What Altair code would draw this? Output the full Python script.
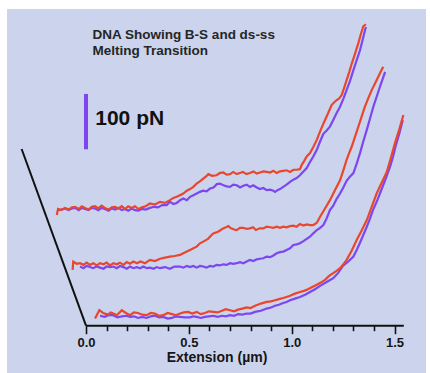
import altair as alt
import pandas as pd

# ---- data (display coordinates: extension in µm, force in pN incl. stacking offset) ----
# Top trace
t1_red_x = [-0.142, -0.136, -0.120, -0.102, -0.085, -0.068, -0.053, -0.035, -0.020, -0.005, 0.012, 0.028, 0.044,
            0.060, 0.076, 0.092, 0.110, 0.125, 0.141, 0.158, 0.174, 0.190, 0.205, 0.222, 0.238, 0.255, 0.272, 0.290,
            0.311, 0.335, 0.360, 0.384, 0.408, 0.425, 0.441, 0.457, 0.473, 0.490, 0.506, 0.522, 0.538, 0.554, 0.570,
            0.584, 0.595, 0.612, 0.635, 0.650, 0.667, 0.684, 0.700, 0.716, 0.733, 0.748, 0.763, 0.780, 0.797, 0.814,
            0.830, 0.846, 0.862, 0.878, 0.895, 0.911, 0.927, 0.943, 0.959, 0.975, 0.992, 1.008, 1.024, 1.040, 1.049,
            1.061, 1.073, 1.089, 1.105, 1.122, 1.142, 1.162, 1.178, 1.194, 1.207, 1.219, 1.231, 1.243, 1.255, 1.267,
            1.280, 1.292, 1.308, 1.324, 1.336, 1.348, 1.361]
t1_red_f = [200, 211, 209, 213, 210, 214, 215, 211, 216, 213, 210, 215, 216, 212, 217, 213, 210, 214, 215, 212,
            216, 211, 216, 213, 216, 211, 214, 216, 221, 219, 224, 222, 227, 231, 233, 236, 239, 244, 247, 251, 257,
            261, 266, 270, 274, 271, 272, 276, 277, 273, 274, 278, 274, 276, 278, 274, 276, 279, 275, 277, 279, 278,
            277, 280, 276, 279, 280, 281, 278, 282, 282, 283, 291, 298, 306, 312, 323, 336, 355, 372, 385, 399, 404,
            408, 411, 417, 430, 444, 459, 474, 492, 511, 527, 541, 545]

t1_pur_x = [-0.136, -0.120, -0.102, -0.085, -0.068, -0.053, -0.035, -0.020, -0.005, 0.012, 0.028, 0.044, 0.060,
            0.076, 0.092, 0.110, 0.125, 0.141, 0.158, 0.174, 0.190, 0.205, 0.222, 0.238, 0.255, 0.272, 0.290, 0.311,
            0.330, 0.350, 0.370, 0.392, 0.408, 0.425, 0.441, 0.457, 0.473, 0.490, 0.506, 0.522, 0.538, 0.554, 0.569,
            0.586, 0.603, 0.620, 0.636, 0.651, 0.668, 0.684, 0.700, 0.716, 0.733, 0.749, 0.765, 0.781, 0.797, 0.813,
            0.830, 0.846, 0.862, 0.878, 0.895, 0.911, 0.919, 0.931, 0.943, 0.959, 0.975, 0.992, 1.008, 1.024, 1.040,
            1.057, 1.073, 1.089, 1.105, 1.122, 1.138, 1.154, 1.170, 1.186, 1.202, 1.219, 1.235, 1.251, 1.267, 1.284,
            1.300, 1.316, 1.332, 1.345, 1.357, 1.361]
t1_pur_f = [209, 210, 212, 209, 212, 213, 209, 213, 211, 209, 213, 212, 209, 213, 211, 208, 212, 210, 213, 209,
            211, 208, 212, 209, 208, 211, 210, 213, 215, 214, 218, 218, 224, 220, 222, 227, 230, 227, 233, 236, 239,
            242, 244, 243, 248, 250, 256, 257, 254, 252, 251, 255, 254, 250, 253, 255, 251, 254, 250, 247, 249, 245,
            246, 244, 242, 245, 247, 251, 255, 260, 264, 267, 272, 279, 285, 296, 306, 318, 333, 347, 353, 360, 372,
            385, 396, 410, 426, 443, 462, 480, 498, 517, 535, 540]

# Middle trace
t2_red_x = [-0.065, -0.062, -0.045, -0.029, -0.012, 0.003, 0.019, 0.036, 0.052, 0.068, 0.085, 0.100, 0.117, 0.133,
            0.149, 0.165, 0.182, 0.198, 0.214, 0.230, 0.248, 0.265, 0.287, 0.311, 0.335, 0.360, 0.384, 0.408, 0.430,
            0.457, 0.473, 0.490, 0.506, 0.522, 0.538, 0.554, 0.570, 0.593, 0.606, 0.619, 0.642, 0.655, 0.667, 0.680,
            0.692, 0.705, 0.720, 0.733, 0.748, 0.763, 0.780, 0.797, 0.812, 0.826, 0.845, 0.862, 0.878, 0.895, 0.911,
            0.927, 0.943, 0.959, 0.975, 0.992, 1.008, 1.024, 1.040, 1.057, 1.073, 1.089, 1.105, 1.122, 1.138, 1.162,
            1.186, 1.210, 1.235, 1.251, 1.267, 1.280, 1.292, 1.308, 1.324, 1.340, 1.356, 1.372, 1.389, 1.405, 1.421,
            1.435, 1.445]
t2_red_f = [101, 116, 112, 113, 110, 114, 110, 113, 109, 113, 111, 114, 109, 113, 111, 114, 110, 115, 112, 116,
            113, 116, 113, 119, 117, 121, 123, 125, 126, 128, 131, 134, 137, 140, 143, 149, 152, 157, 162, 167, 170,
            173, 176, 178, 180, 176, 174, 173, 177, 177, 175, 176, 178, 173, 176, 176, 179, 178, 177, 179, 177, 179,
            178, 180, 181, 179, 184, 181, 183, 182, 182, 186, 197, 212, 227, 245, 263, 281, 300, 313, 324, 342, 360,
            378, 396, 411, 426, 438, 450, 461, 468]

t2_pur_x = [-0.029, -0.012, 0.003, 0.019, 0.035, 0.052, 0.068, 0.085, 0.100, 0.117, 0.133, 0.149, 0.165, 0.182,
            0.198, 0.214, 0.230, 0.247, 0.263, 0.279, 0.295, 0.312, 0.328, 0.344, 0.360, 0.384, 0.408, 0.430, 0.457,
            0.473, 0.490, 0.506, 0.522, 0.538, 0.554, 0.570, 0.586, 0.603, 0.619, 0.635, 0.651, 0.667, 0.684, 0.700,
            0.716, 0.733, 0.749, 0.765, 0.781, 0.797, 0.813, 0.830, 0.846, 0.862, 0.878, 0.895, 0.911, 0.927, 0.943,
            0.959, 0.975, 0.992, 1.008, 1.024, 1.040, 1.057, 1.073, 1.089, 1.105, 1.122, 1.138, 1.154, 1.170, 1.186,
            1.202, 1.218, 1.235, 1.251, 1.267, 1.284, 1.300, 1.316, 1.332, 1.348, 1.365, 1.381, 1.397, 1.413, 1.429,
            1.442, 1.454]
t2_pur_f = [107, 104, 108, 106, 104, 107, 105, 103, 107, 106, 107, 104, 108, 106, 103, 107, 104, 106, 104, 107,
            104, 105, 103, 106, 104, 106, 103, 107, 107, 105, 108, 106, 108, 105, 108, 107, 105, 108, 107, 110, 109,
            111, 110, 113, 112, 113, 115, 113, 116, 119, 117, 120, 121, 122, 125, 124, 127, 131, 133, 134, 137, 140,
            146, 147, 149, 153, 157, 161, 167, 173, 177, 182, 194, 209, 217, 229, 239, 250, 262, 270, 276, 293, 312,
            333, 354, 375, 396, 414, 432, 446, 459]

# Bottom trace
t3_red_x = [0.044, 0.065, 0.083, 0.107, 0.120, 0.133, 0.150, 0.174, 0.194, 0.214, 0.233, 0.253, 0.273, 0.295,
            0.315, 0.335, 0.355, 0.376, 0.397, 0.418, 0.437, 0.457, 0.476, 0.496, 0.517, 0.538, 0.558, 0.578, 0.598,
            0.619, 0.640, 0.661, 0.680, 0.700, 0.720, 0.739, 0.760, 0.781, 0.800, 0.822, 0.850, 0.878, 0.899, 0.919,
            0.938, 0.958, 0.975, 0.992, 1.016, 1.040, 1.060, 1.079, 1.100, 1.122, 1.142, 1.162, 1.182, 1.202, 1.218,
            1.235, 1.251, 1.267, 1.292, 1.316, 1.340, 1.365, 1.389, 1.413, 1.437, 1.462, 1.482, 1.502, 1.523, 1.543]
t3_red_f = [13, 28, 23, 20, 24, 22, 19, 28, 23, 19, 24, 23, 20, 19, 23, 22, 18, 19, 23, 21, 19, 22, 24, 25, 22,
            25, 21, 23, 26, 25, 24, 27, 30, 28, 26, 29, 31, 33, 32, 36, 40, 43, 44, 46, 48, 50, 52, 54, 58, 61, 63,
            66, 70, 74, 78, 83, 90, 95, 99, 104, 111, 119, 136, 155, 172, 191, 215, 239, 258, 278, 303, 330, 355, 381]

t3_pur_x = [0.068, 0.090, 0.110, 0.131, 0.153, 0.175, 0.195, 0.214, 0.233, 0.253, 0.273, 0.295, 0.315, 0.335,
            0.355, 0.376, 0.397, 0.418, 0.437, 0.457, 0.480, 0.506, 0.522, 0.538, 0.558, 0.578, 0.598, 0.619, 0.640,
            0.661, 0.680, 0.700, 0.720, 0.739, 0.760, 0.781, 0.800, 0.822, 0.850, 0.878, 0.899, 0.919, 0.938, 0.958,
            0.975, 0.992, 1.016, 1.040, 1.065, 1.089, 1.113, 1.138, 1.170, 1.202, 1.225, 1.249, 1.275, 1.300, 1.316,
            1.332, 1.348, 1.365, 1.380, 1.395, 1.413, 1.429, 1.454, 1.478, 1.493, 1.507, 1.525, 1.540]
t3_pur_f = [18, 16, 19, 19, 15, 17, 18, 16, 17, 14, 16, 14, 17, 18, 15, 16, 13, 14, 17, 16, 15, 15, 17, 16, 14,
            16, 17, 18, 16, 18, 17, 19, 18, 21, 20, 22, 22, 25, 27, 31, 33, 36, 38, 41, 43, 46, 49, 52, 56, 61, 66,
            72, 79, 86, 95, 108, 116, 125, 137, 150, 164, 179, 193, 209, 224, 239, 263, 287, 306, 327, 350, 372]

# Annotation values
scale_bar_pN = 100
axis_extent = [0.0, 1.545]
tick_values = [round(0.1 * i, 1) for i in range(16)]

# ---- build table ----
rows = []
for trace, series, xs, fs in [
    ("top", "relax", t1_pur_x, t1_pur_f), ("top", "stretch", t1_red_x, t1_red_f),
    ("middle", "relax", t2_pur_x, t2_pur_f), ("middle", "stretch", t2_red_x, t2_red_f),
    ("bottom", "relax", t3_pur_x, t3_pur_f), ("bottom", "stretch", t3_red_x, t3_red_f),
]:
    for i, (x, f) in enumerate(zip(xs, fs)):
        rows.append({"x": x, "f": f, "trace": trace, "series": series, "i": i})
df = pd.DataFrame(rows)

RED = "#e9472d"
PURPLE = "#7c46f0"
FONT = "Liberation Sans"

xscale = alt.Scale(domain=[-0.3841, 1.6529], nice=False, zero=False)
yscale = alt.Scale(domain=[-85.5, 572.6], nice=False, zero=False)

major_test = "abs(datum.value * 2 - round(datum.value * 2)) < 0.001"
xaxis = alt.Axis(
    values=tick_values,
    domain=False,
    grid=False,
    format=".1f",
    labelExpr=f"{major_test} ? datum.label : ''",
    tickSize={"condition": {"test": major_test, "value": 8}, "value": 5},
    tickColor="#111111",
    tickWidth=1.6,
    labelFont=FONT,
    labelFontSize=13,
    labelFontWeight="bold",
    labelColor="#151515",
    labelPadding=3,
    labelOverlap=False,
    title="Extension (µm)",
    titleFont=FONT,
    titleFontSize=14,
    titleFontWeight="bold",
    titleColor="#151515",
    titlePadding=1,
    offset=-47.3,
)

def X(field=None, datum=None):
    if datum is not None:
        return alt.X(datum=datum, type="quantitative", scale=xscale, axis=xaxis)
    return alt.X(field, type="quantitative", scale=xscale, axis=xaxis)

def Y(field=None, datum=None):
    if datum is not None:
        return alt.Y(datum=datum, type="quantitative", scale=yscale, axis=None)
    return alt.Y(field, type="quantitative", scale=yscale, axis=None)

one = pd.DataFrame({"k": [0]})

purple_lines = alt.Chart(df[df.series == "relax"]).mark_line(strokeWidth=2.2, color=PURPLE).encode(
    x=X("x"), y=Y("f"), detail="trace:N", order="i:Q")
red_lines = alt.Chart(df[df.series == "stretch"]).mark_line(strokeWidth=2.2, color=RED).encode(
    x=X("x"), y=Y("f"), detail="trace:N", order="i:Q")

axis_line = alt.Chart(one).mark_rule(strokeWidth=2, color="#111111").encode(
    x=X(datum=axis_extent[0]), x2=alt.X2(datum=axis_extent[1]), y=Y(datum=0))
diag_line = alt.Chart(one).mark_rule(strokeWidth=2, color="#111111").encode(
    x=X(datum=-0.313), x2=alt.X2(datum=0.0), y=Y(datum=319.5), y2=alt.Y2(datum=0))
scale_bar = alt.Chart(one).mark_rule(strokeWidth=4, color=PURPLE).encode(
    x=X(datum=0.0), y=Y(datum=319), y2=alt.Y2(datum=319 + scale_bar_pN))
scale_text = alt.Chart(one).mark_text(
    text=f"{scale_bar_pN} pN", font=FONT, fontSize=21, fontWeight="bold", color="#111111",
    align="left", baseline="middle").encode(x=X(datum=0.045), y=Y(datum=374))
title_text = alt.Chart(one).mark_text(
    text="DNA Showing B-S and ds-ss\nMelting Transition", lineBreak="\n", lineHeight=16,
    font=FONT, fontSize=13.5, fontWeight="bold", color="#262626",
    align="left", baseline="alphabetic").encode(x=X(datum=0.031), y=Y(datum=518))

chart = alt.layer(
    axis_line, diag_line, scale_bar, purple_lines, red_lines, scale_text, title_text
).properties(
    width=419, height=364,
    padding={"left": 7, "top": 9, "right": 4, "bottom": 0},
    autosize=alt.AutoSizeParams(type="none"),
    background="#ffffff",
).configure_view(fill="#cbd4ec", stroke=None)

chart.save("out.html", embed_options={"renderer": "svg", "actions": False})
